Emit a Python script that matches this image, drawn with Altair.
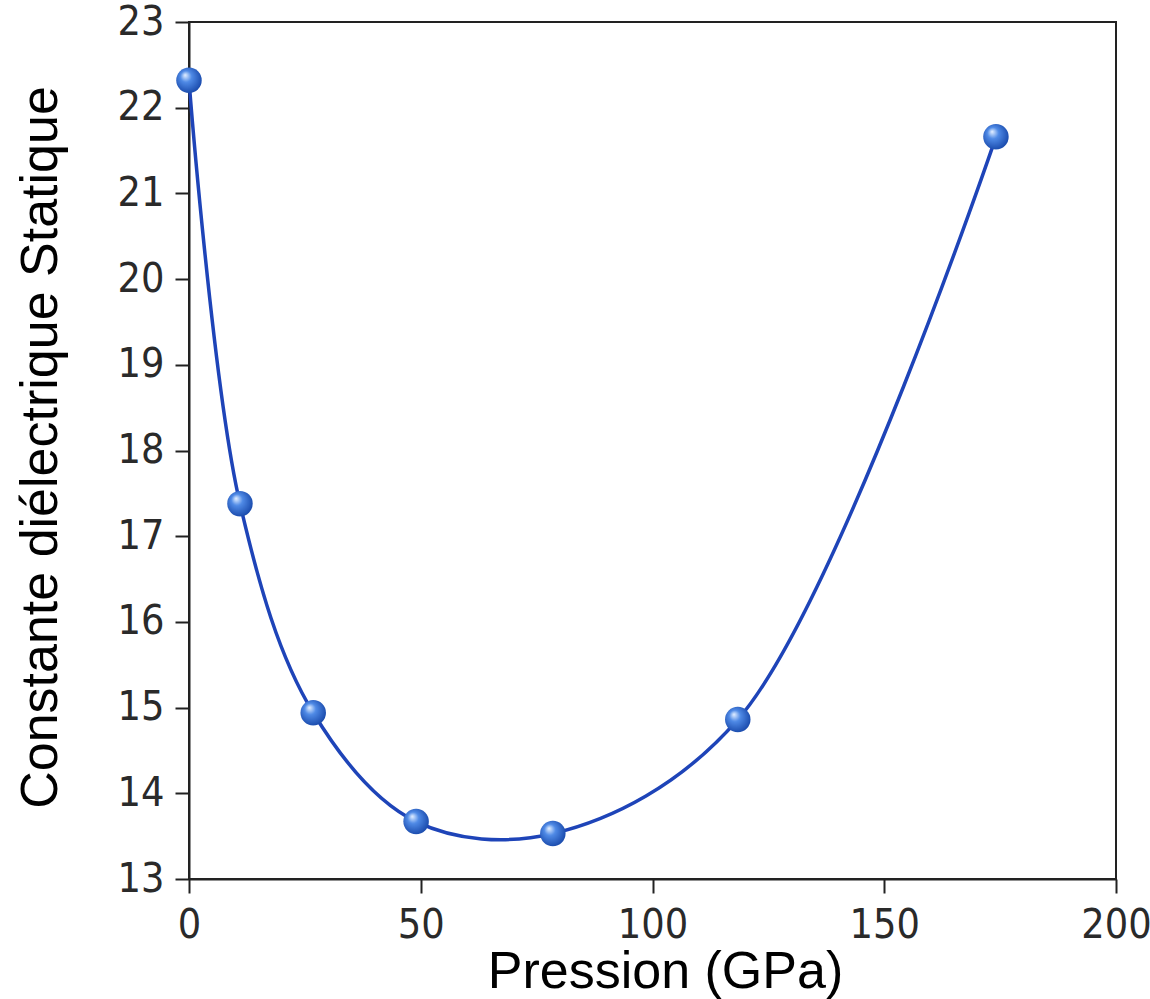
import altair as alt
import pandas as pd

pressure = [0, 11.0, 26.8, 49.0, 78.5, 118.4, 174.1]
epsilon = [22.32, 17.38, 14.94, 13.67, 13.53, 14.86, 21.66]

df = pd.DataFrame({"P": pressure, "eps": epsilon})

xscale = alt.Scale(domain=[0, 200], nice=False)
yscale = alt.Scale(domain=[13, 23], nice=False, zero=False)

xaxis = alt.Axis(
    title="Pression (GPa)", values=[0, 50, 100, 150, 200], grid=False, format="d",
    labelFont="DejaVu Sans Condensed", labelFontSize=41, labelColor="#2a2a2a",
    labelPadding=12, labelFlush=False, tickSize=14, tickWidth=2, tickColor="#222222",
    domainColor="#222222", domainWidth=2,
    titleFont="Liberation Sans", titleFontSize=52, titleFontWeight="normal",
    titleColor="#000000", titleX=476, titleY=92, titleBaseline="middle",
    titleAlign="center",
)
yaxis = alt.Axis(
    title="Constante diélectrique Statique", values=list(range(13, 24)), grid=False,
    format="d",
    labelFont="DejaVu Sans Condensed", labelFontSize=41, labelColor="#2a2a2a",
    labelPadding=11, labelFlush=False, tickSize=14, tickWidth=2, tickColor="#222222",
    domainColor="#222222", domainWidth=2,
    titleFont="Liberation Sans", titleFontSize=52, titleFontWeight="normal",
    titleColor="#000000", titleX=-149, titleY=425, titleBaseline="middle",
    titleAlign="center", titleAngle=-90,
)

base = alt.Chart(df)

line = base.mark_line(interpolate="catmull-rom", color="#1e44b8", strokeWidth=3.5).encode(
    x=alt.X("P:Q", scale=xscale, axis=xaxis),
    y=alt.Y("eps:Q", scale=yscale, axis=yaxis),
)

grad = alt.Gradient(
    gradient="radial",
    stops=[
        alt.GradientStop(offset=0, color="#d8e8ff"),
        alt.GradientStop(offset=0.35, color="#4f8ae6"),
        alt.GradientStop(offset=1, color="#1646a8"),
    ],
    x1=0.35, y1=0.3, r1=0.02, x2=0.45, y2=0.45, r2=0.6,
)

points = base.mark_point(filled=True, shape="circle", size=650, opacity=1, fill=grad, strokeWidth=0).encode(
    x=alt.X("P:Q", scale=xscale),
    y=alt.Y("eps:Q", scale=yscale),
)

chart = (line + points).properties(
    width=927, height=857,
    autosize=alt.AutoSizeParams(type="none"),
    padding={"left": 189, "top": 22, "right": 34, "bottom": 120},
    background="white",
).configure_view(stroke="#222222", strokeWidth=2)

chart.save("out.html", embed_options={"renderer": "svg", "actions": False})
